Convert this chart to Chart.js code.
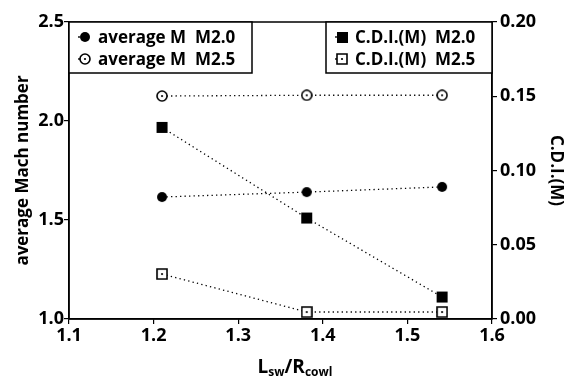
<!DOCTYPE html>
<html>
<head>
<meta charset="utf-8">
<script src="https://cdn.jsdelivr.net/npm/chart.js@4.4.0/dist/chart.umd.min.js"></script>
<style>
  html, body { margin: 0; padding: 0; background: #fff; }
  #wrap { width: 568px; height: 381px; }
</style>
</head>
<body>
<div id="wrap"><canvas id="chart" width="568" height="381"></canvas></div>
<script>

/********** DATA **********/

const xRatio = [1.21, 1.381, 1.541]
const machM20 = [1.616, 1.641, 1.667]
const machM25 = [2.126, 2.13, 2.13]
const cdiM20 = [0.129, 0.068, 0.0148]
const cdiM25 = [0.0303, 0.0047, 0.0047]

const xTicks = [1.1, 1.2, 1.3, 1.4, 1.5, 1.6]
const machTicks = [1.0, 1.5, 2.0, 2.5]
const cdiTicks = [0.00, 0.05, 0.10, 0.15, 0.20]

const FONT = '"Open Sans", Lato, sans-serif'
const WEIGHT = '700'

/********** MARKERS **********/

const makeMarker = (shape, filled, size) => {
  const c = document.createElement('canvas')
  c.width = size
  c.height = size
  const g = c.getContext('2d')
  const m = size / 2
  g.strokeStyle = '#000'
  g.fillStyle = '#000'
  g.lineWidth = 1.6
  if (shape === 'circle') {
    g.beginPath()
    g.arc(m, m, m - 1, 0, Math.PI * 2)
  } else {
    g.beginPath()
    g.rect(1, 1, size - 2, size - 2)
  }
  if (filled) {
    g.fill()
  } else {
    g.fillStyle = '#fff'
    g.fill()
    g.stroke()
    g.fillStyle = '#000'
    g.beginPath()
    g.arc(m, m, 1.1, 0, Math.PI * 2)
    g.fill()
  }
  return c
}

const mkFilledCircle = makeMarker('circle', true, 12)
const mkOpenCircle = makeMarker('circle', false, 12)
const mkFilledSquare = makeMarker('square', true, 13)
const mkOpenSquare = makeMarker('square', false, 12)

const pts = (ys) => xRatio.map((x, i) => ({x: x, y: ys[i]}))

const series = (label, ys, axis, marker) => ({
  label: label,
  data: pts(ys),
  yAxisID: axis,
  borderColor: '#000',
  borderWidth: 1.3,
  borderDash: [1.3, 3.2],
  pointStyle: marker,
  pointRadius: 6,
  pointHoverRadius: 6,
  backgroundColor: '#000',
  fill: false,
  tension: 0
})

/********** PLUGINS **********/

// frame round the plot, legend boxes and the subscripted x title
const decorations = {
  id: 'decorations',
  afterDraw: (chart) => {
    const g = chart.ctx
    const a = chart.chartArea
    g.save()
    g.strokeStyle = '#000'
    g.lineWidth = 1.5
    g.strokeRect(a.left, a.top, a.right - a.left, a.bottom - a.top)

    const ds = chart.data.datasets
    const box = (x0, x1, items) => {
      g.fillStyle = '#fff'
      g.fillRect(x0, a.top, x1 - x0, 51)
      g.strokeRect(x0, a.top, x1 - x0, 51)
      items.forEach((it, i) => {
        const y = a.top + 15 + i * 22
        g.fillStyle = '#000'
        g.beginPath()
        g.arc(x0 + 10, y, 0.9, 0, Math.PI * 2)
        g.fill()
        g.drawImage(it.marker, x0 + 16 - 6, y - 6)
        g.font = WEIGHT + ' 17px ' + FONT
        g.textBaseline = 'middle'
        g.textAlign = 'left'
        g.fillText(it.label, x0 + 29, y + 1)
      })
    }
    box(a.left, 252, [
      {marker: mkFilledCircle, label: ds[0].label},
      {marker: mkOpenCircle, label: ds[1].label}
    ])
    box(326, a.right, [
      {marker: mkFilledSquare, label: ds[2].label},
      {marker: mkOpenSquare, label: ds[3].label}
    ])

    // x axis title L_sw / R_cowl
    const parts = [
      {t: 'L', s: 19, dy: 0},
      {t: 'sw', s: 12, dy: 3},
      {t: '/R', s: 19, dy: 0},
      {t: 'cowl', s: 12, dy: 3}
    ]
    let w = 0
    parts.forEach((p) => {
      g.font = WEIGHT + ' ' + p.s + 'px ' + FONT
      p.w = g.measureText(p.t).width
      w += p.w
    })
    let x = 295 - w / 2
    g.textAlign = 'left'
    g.textBaseline = 'alphabetic'
    g.fillStyle = '#000'
    parts.forEach((p) => {
      g.font = WEIGHT + ' ' + p.s + 'px ' + FONT
      g.fillText(p.t, x, 373 + p.dy)
      x += p.w
    })
    g.restore()
  }
}

/********** CHART **********/

const tickFont = {family: FONT, size: 18, weight: WEIGHT}

const chart = new Chart(document.getElementById('chart'), {
  type: 'line',
  data: {
    datasets: [
      series('average M  M2.0', machM20, 'y', mkFilledCircle),
      series('average M  M2.5', machM25, 'y', mkOpenCircle),
      series('C.D.I.(M)  M2.0', cdiM20, 'y1', mkFilledSquare),
      series('C.D.I.(M)  M2.5', cdiM25, 'y1', mkOpenSquare)
    ]
  },
  options: {
    responsive: false,
    animation: false,
    layout: {padding: {top: 22, left: 0, right: 0, bottom: 0}},
    plugins: {
      legend: {display: false},
      tooltip: {enabled: false}
    },
    scales: {
      x: {
        type: 'linear',
        min: xTicks[0],
        max: xTicks[xTicks.length - 1],
        afterBuildTicks: (s) => { s.ticks = xTicks.map((v) => ({value: v})) },
        afterFit: (s) => { s.height = 62 },
        grid: {drawOnChartArea: false, tickLength: 5, color: '#000', lineWidth: 1.2},
        border: {color: '#000', width: 1.5},
        ticks: {
          font: tickFont, color: '#000', padding: 1, maxRotation: 0,
          callback: (v) => v.toFixed(1)
        }
      },
      y: {
        position: 'left',
        min: machTicks[0],
        max: machTicks[machTicks.length - 1],
        afterBuildTicks: (s) => { s.ticks = machTicks.map((v) => ({value: v})) },
        afterFit: (s) => { s.width = 69 },
        grid: {drawOnChartArea: false, tickLength: 5, color: '#000', lineWidth: 1.2},
        border: {color: '#000', width: 1.5},
        ticks: {font: tickFont, color: '#000', padding: 0, callback: (v) => v.toFixed(1)},
        title: {
          display: true,
          text: 'average Mach number',
          color: '#000',
          font: {family: FONT, size: 17, weight: WEIGHT},
          padding: {top: 13, bottom: 0}
        }
      },
      y1: {
        position: 'right',
        min: cdiTicks[0],
        max: cdiTicks[cdiTicks.length - 1],
        afterBuildTicks: (s) => { s.ticks = cdiTicks.map((v) => ({value: v})) },
        afterFit: (s) => { s.width = 76 },
        grid: {drawOnChartArea: false, tickLength: 5, color: '#000', lineWidth: 1.2},
        border: {color: '#000', width: 1.5},
        ticks: {font: tickFont, color: '#000', padding: 3, callback: (v) => v.toFixed(2)},
        title: {
          display: true,
          text: 'C.D.I.(M)',
          color: '#000',
          font: {family: FONT, size: 17, weight: WEIGHT},
          padding: {top: 2, bottom: 0}
        }
      }
    }
  },
  plugins: [decorations]
})

</script>
</body>
</html>
